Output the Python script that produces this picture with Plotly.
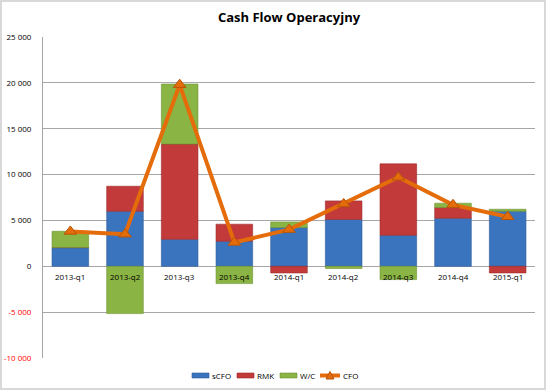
import plotly.graph_objects as go

categories = ["2013-q1", "2013-q2", "2013-q3", "2013-q4", "2014-q1",
              "2014-q2", "2014-q3", "2014-q4", "2015-q1"]
scfo = [2040, 6000, 2950, 2730, 4220, 5100, 3380, 5240, 6000]
rmk = [0, 2730, 10370, 1860, -730, 2030, 7790, 1170, -730]
wc = [1780, -5160, 6550, -1890, 620, -250, -1450, 470, 220]
cfo = [3800, 3500, 19800, 2600, 4000, 6800, 9700, 6700, 5400]

tick_vals = [-10000, -5000, 0, 5000, 10000, 15000, 20000, 25000]
tick_text = ['<span style="color:#FF0000">-10 000</span>',
             '<span style="color:#FF0000">-5 000</span>',
             "0", "5 000", "10 000", "15 000", "20 000", "25 000"]

series_names = ["sCFO", "RMK", "W/C", "CFO"]
series_colors = ["#3B74BE", "#C23A3A", "#8AB444", "#E46C0A"]
edge_colors = ["#2E5C99", "#9E2C2C", "#6E9234", "#B85508"]

W, H = 546, 390
ml, mr, mt, mb = 43, 11, 37, 32
pw, ph = W - ml - mr, H - mt - mb


def px(x):
    return (x - ml) / pw


def py(y):
    return (H - mb - y) / ph


fig = go.Figure()
for name, vals, col, edge in zip(series_names[:3], [scfo, rmk, wc],
                                 series_colors[:3], edge_colors[:3]):
    fig.add_trace(go.Bar(x=categories, y=vals, name=name, showlegend=False,
                         marker=dict(color=col, line=dict(color=edge, width=0.6))))
fig.add_trace(go.Scatter(x=categories, y=cfo, name="CFO", mode="lines+markers",
                         showlegend=False,
                         line=dict(color=series_colors[3], width=4),
                         marker=dict(symbol="triangle-up", size=11, color=series_colors[3],
                                     line=dict(color=edge_colors[3], width=1))))

for c in categories:
    fig.add_annotation(x=c, y=0, xref="x", yref="y", text=c, showarrow=False,
                       yshift=-10, font=dict(size=8, color="#000000"))

# frame
fig.add_shape(type="rect", xref="paper", yref="paper", layer="below",
              x0=px(2), x1=px(544), y0=py(388), y1=py(2),
              fillcolor="white", line=dict(width=0))

# custom legend
leg_x = [192, 237, 280, 320]
ly = 375.5
for i, (name, col, edge) in enumerate(zip(series_names, series_colors, edge_colors)):
    x0 = leg_x[i]
    if i < 3:
        fig.add_shape(type="rect", xref="paper", yref="paper",
                      x0=px(x0), x1=px(x0 + 17), y0=py(ly + 2.5), y1=py(ly - 2.5),
                      fillcolor=col, line=dict(color=edge, width=0.6))
        tx = x0 + 18
    else:
        fig.add_shape(type="line", xref="paper", yref="paper",
                      x0=px(x0), x1=px(x0 + 20), y0=py(ly), y1=py(ly),
                      line=dict(color=col, width=4))
        cx = x0 + 10
        fig.add_shape(type="path", xref="paper", yref="paper",
                      path=f"M {px(cx - 4)} {py(ly + 3.5)} L {px(cx + 4)} {py(ly + 3.5)} "
                           f"L {px(cx)} {py(ly - 4)} Z",
                      fillcolor=col, line=dict(color=edge, width=1))
        tx = x0 + 21
    fig.add_annotation(x=px(tx), y=py(ly), xref="paper", yref="paper", text=name,
                       showarrow=False, xanchor="left", yanchor="middle",
                       font=dict(size=8, color="#000000"))

fig.update_layout(
    width=W, height=H,
    margin=dict(l=ml, r=mr, t=mt, b=mb, autoexpand=False),
    paper_bgcolor="#D9D9D9", plot_bgcolor="white",
    barmode="relative", bargap=0.33,
    font=dict(family="Open Sans, Liberation Sans, sans-serif", size=8, color="#000000"),
    title=dict(text="<b>Cash Flow Operacyjny</b>", x=0.5, xref="paper", xanchor="center",
               y=1 - 17 / H, yanchor="middle",
               font=dict(size=13, family="Open Sans, sans-serif", color="#000000")),
    xaxis=dict(showticklabels=False, showgrid=False, zeroline=False, showline=False,
               range=[-0.5, 8.5], automargin=False),
    yaxis=dict(range=[-10000, 25000], tickvals=tick_vals, ticktext=tick_text,
               showgrid=True, gridcolor="#A6A6A6", gridwidth=1,
               zeroline=True, zerolinecolor="#A6A6A6", zerolinewidth=1,
               showline=True, linecolor="#A6A6A6", linewidth=1, automargin=False,
               ticks="", tickfont=dict(size=8), ticklabelstandoff=9),
    showlegend=False,
)

fig.write_html("out.html", config={"displayModeBar": False},
               post_script="document.body.style.margin='0px';")
